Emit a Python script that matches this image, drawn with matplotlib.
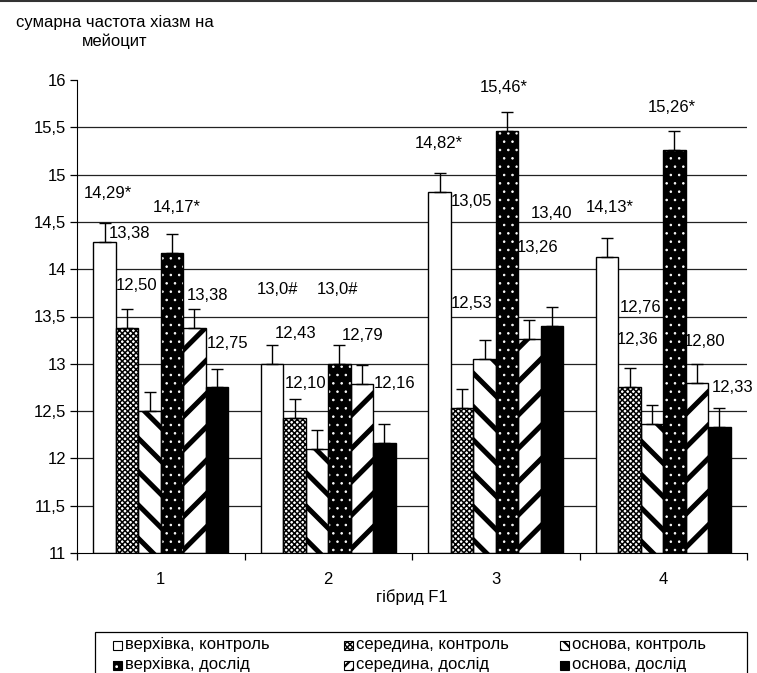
import numpy as np
import matplotlib
matplotlib.use("Agg")
import matplotlib.pyplot as plt
from matplotlib.patches import Rectangle

plt.rcParams['font.family'] = ['Liberation Sans', 'DejaVu Sans']

# data
hybrids = ["1", "2", "3", "4"]
series_names = ["верхівка, контроль", "середина, контроль", "основа, контроль",
                "верхівка, дослід", "середина, дослід", "основа, дослід"]
vals_top_ctrl = [14.29, 13.00, 14.82, 14.13]
vals_mid_ctrl = [13.38, 12.43, 12.53, 12.76]
vals_base_ctrl = [12.50, 12.10, 13.05, 12.36]
vals_top_exp = [14.17, 13.00, 15.46, 15.26]
vals_mid_exp = [13.38, 12.79, 13.26, 12.80]
vals_base_exp = [12.75, 12.16, 13.40, 12.33]
errs_top_ctrl = [0.20, 0.20, 0.20, 0.20]
errs_mid_ctrl = [0.20, 0.20, 0.20, 0.20]
errs_base_ctrl = [0.20, 0.20, 0.20, 0.20]
errs_top_exp = [0.20, 0.20, 0.20, 0.20]
errs_mid_exp = [0.20, 0.20, 0.20, 0.20]
errs_base_exp = [0.20, 0.20, 0.20, 0.20]
# value labels as printed on the chart
labels_top_ctrl = ["14,29*", "13,0#", "14,82*", "14,13*"]
labels_mid_ctrl = ["13,38", "12,43", "13,05", "12,76"]
labels_base_ctrl = ["12,50", "12,10", "12,53", "12,36"]
labels_top_exp = ["14,17*", "13,0#", "15,46*", "15,26*"]
labels_mid_exp = ["13,38", "12,79", "13,26", "12,80"]
labels_base_exp = ["12,75", "12,16", "13,40", "12,33"]

values = [vals_top_ctrl, vals_mid_ctrl, vals_base_ctrl, vals_top_exp, vals_mid_exp, vals_base_exp]
errors = [errs_top_ctrl, errs_mid_ctrl, errs_base_ctrl, errs_top_exp, errs_mid_exp, errs_base_exp]
labels = [labels_top_ctrl, labels_mid_ctrl, labels_base_ctrl, labels_top_exp, labels_mid_exp, labels_base_exp]

# label placement (pixel centres in the original layout, hand-positioned)
label_px = [
    [(108, 193), (277, 290), (439, 143), (610, 207)],
    [(130, 234), (296, 333), (472, 202), (641, 308)],
    [(137, 286), (306, 384), (472, 303), (638, 340)],
    [(177, 207), (337, 290), (504, 88), (672, 107)],
    [(207, 295), (363, 335), (538, 248), (705, 341)],
    [(228, 343), (395, 383), (551, 213), (733, 387)],
]

styles = [
    dict(face="white", hatch=None, hcol="black", hlw=1.0),
    dict(face="white", hatch="xxxxxx", hcol="black", hlw=1.1),
    dict(face="white", hatch="\\", hcol="black", hlw=3.6),
    dict(face="black", hatch="..", hcol="white", hlw=0.6),
    dict(face="white", hatch="/", hcol="black", hlw=3.6),
    dict(face="black", hatch=None, hcol="black", hlw=1.0),
]
# legend icons are tiny, so they get denser hatching
icon_hatch = [None, "xxxxxx", "\\\\\\", "..", "///", None]
icon_hlw = [1.0, 1.1, 1.6, 0.8, 1.6, 1.0]

W, H = 757, 673
fig = plt.figure(figsize=(W / 100, H / 100), dpi=100)
x0, x1, y0, y1 = 77, 747, 80, 553
ax = fig.add_axes([x0 / W, 1 - y1 / H, (x1 - x0) / W, (y1 - y0) / H])

x = np.arange(1, 5)
width = 0.134
offsets = (np.arange(6) - 2.5) * width

for i in range(6):
    st = styles[i]
    plt.rcParams['hatch.linewidth'] = st["hlw"]
    bars = ax.bar(x + offsets[i], np.array(values[i]) - 11, width, bottom=11,
                  color=st["face"], edgecolor=st["hcol"], hatch=st["hatch"],
                  linewidth=0, zorder=2)
    for b in bars:
        if hasattr(b, "set_hatch_linewidth"):
            b.set_hatch_linewidth(st["hlw"])
    ax.bar(x + offsets[i], np.array(values[i]) - 11, width, bottom=11,
           fill=False, edgecolor="black", linewidth=1.0, zorder=3)
    ax.errorbar(x + offsets[i], values[i], yerr=[np.zeros(4), errors[i]],
                fmt="none", ecolor="black", elinewidth=1.0, capsize=4,
                capthick=1.0, zorder=4)

# value labels
for i in range(6):
    for j in range(4):
        px, py = label_px[i][j]
        xd = 0.5 + (px - x0) / ((x1 - x0) / 4)
        yd = 16 - (py - y0) / ((y1 - y0) / 5)
        ax.text(xd, yd, labels[i][j], ha="center", va="center", fontsize=12, zorder=5)

ax.set_xlim(0.5, 4.5)
ax.set_ylim(11, 16)
ax.set_yticks(np.arange(11, 16.01, 0.5))
ax.set_yticklabels([("%g" % v).replace(".", ",") for v in np.arange(11, 16.01, 0.5)], fontsize=12)
for v in np.arange(11.5, 15.51, 0.5):
    ax.axhline(v, color="#222222", linewidth=0.9, zorder=1)
ax.set_xticks(x)
ax.set_xticklabels(hybrids, fontsize=12)
ax.tick_params(axis="x", length=0, pad=14)
ax.set_xticks(np.arange(0.5, 4.6, 1), minor=True)
ax.tick_params(axis="x", which="minor", length=5, width=0.9)
ax.tick_params(axis="y", length=5, width=0.9, pad=3)
ax.spines["top"].set_visible(False)
ax.spines["right"].set_visible(False)
ax.set_xlabel("гібрид F1", fontsize=12, labelpad=1)

fig.text(115 / W, 1 - 32 / H, "сумарна частота хіазм на\nмейоцит", ha="center",
         va="center", fontsize=12, multialignment="center", linespacing=1.35)

# border line at top of figure
fig.add_artist(plt.Line2D([0, 1], [1 - 0.5 / H, 1 - 0.5 / H], color="#333333", linewidth=1.5))

# legend, drawn by hand: box runs off the bottom edge as in the original
tf = fig.transFigure
fig.add_artist(Rectangle((95 / W, -0.01), (747 - 95) / W, 0.01 + (H - 632) / H,
                         transform=tf, fill=False, edgecolor="black", linewidth=0.9))
col_x = [113, 344, 560]
row_y = [645, 665]
sq = 9
for k in range(6):
    st = styles[k]
    cx = col_x[k % 3]
    cy = row_y[k // 3]
    plt.rcParams['hatch.linewidth'] = icon_hlw[k]
    r = Rectangle((cx / W, 1 - (cy + sq / 2) / H), sq / W, sq / H, transform=tf,
                  facecolor=st["face"], edgecolor=st["hcol"], hatch=icon_hatch[k], linewidth=0)
    if hasattr(r, "set_hatch_linewidth"):
        r.set_hatch_linewidth(icon_hlw[k])
    fig.add_artist(r)
    fig.add_artist(Rectangle((cx / W, 1 - (cy + sq / 2) / H), sq / W, sq / H, transform=tf,
                             fill=False, edgecolor="black", linewidth=0.8))
    fig.text((cx + sq + 3) / W, 1 - cy / H, series_names[k], ha="left", va="center", fontsize=12)

fig.savefig("out.png", dpi=100)
